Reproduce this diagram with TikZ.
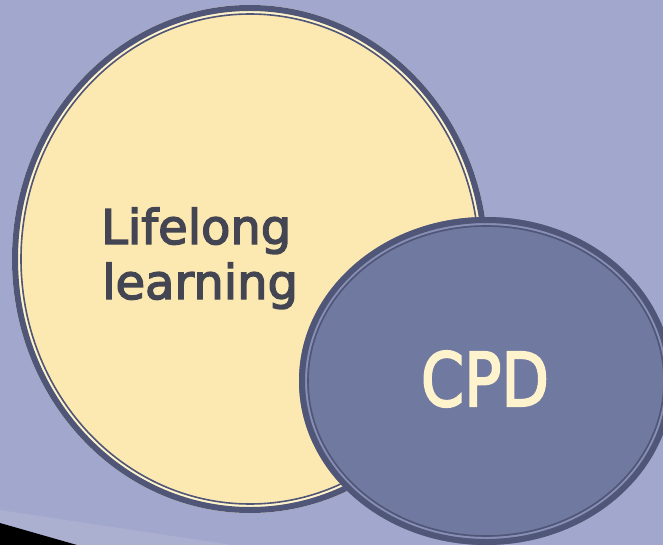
\documentclass[tikz,border=0pt]{standalone}
\usepackage{fontspec}
\setmainfont{DejaVu Sans}
\newfontfamily\semib[FakeBold=3]{DejaVu Sans}
\usepackage{graphicx}
\definecolor{bg}{RGB}{162,167,205}
\definecolor{band}{RGB}{171,175,208}
\definecolor{ringdark}{RGB}{80,86,120}
\definecolor{yfill}{RGB}{252,233,178}
\definecolor{ygap}{RGB}{255,244,205}
\definecolor{bfill}{RGB}{112,121,159}
\definecolor{bgap}{RGB}{135,143,180}
\definecolor{txtdark}{RGB}{68,69,82}
\definecolor{txtcream}{RGB}{255,243,205}
\tikzset{
  outerring/.style={draw=ringdark, line width=6pt},
  innerring/.style={draw=ringdark, line width=1.6pt},
  bigtext/.style={anchor=base west, text=txtdark, font=\semib\fontsize{48}{48}\selectfont, inner sep=0},
}
\begin{document}
\begin{tikzpicture}[x=1pt,y=-1pt]
\useasboundingbox (0,0) rectangle (663,545);
\fill[bg] (0,0) rectangle (663,545);
% bottom-left decoration
\fill[band] (0,510) -- (232,545) -- (77,545) -- (0,523) -- cycle;
\fill[black] (0,523) -- (77,545) -- (0,545) -- cycle;
% big ellipse
\fill[yfill] (250,259) ellipse [x radius=238, y radius=254];
\draw[ygap, line width=2.2pt] (250,259) ellipse [x radius=231, y radius=247];
\draw[outerring] (250,259) ellipse [x radius=235, y radius=251];
\draw[innerring] (250,259) ellipse [x radius=229, y radius=245];
\node[bigtext] (l1) at (101,244) {Lifelong};
\node[bigtext] (l2) at (102,299) {learning};
% CPD ellipse
\fill[bfill] (486,381) ellipse [x radius=187, y radius=164];
\draw[bgap, line width=2.2pt] (486,381) ellipse [x radius=180, y radius=157];
\draw[outerring] (486,381) ellipse [x radius=184, y radius=161];
\draw[innerring] (486,381) ellipse [x radius=178, y radius=155];
\node[anchor=base, text=txtcream, inner sep=0] (cpd) at (485,406) {\resizebox{128pt}{55pt}{\semib\fontsize{60}{60}\selectfont CPD}};
\end{tikzpicture}
\end{document}
